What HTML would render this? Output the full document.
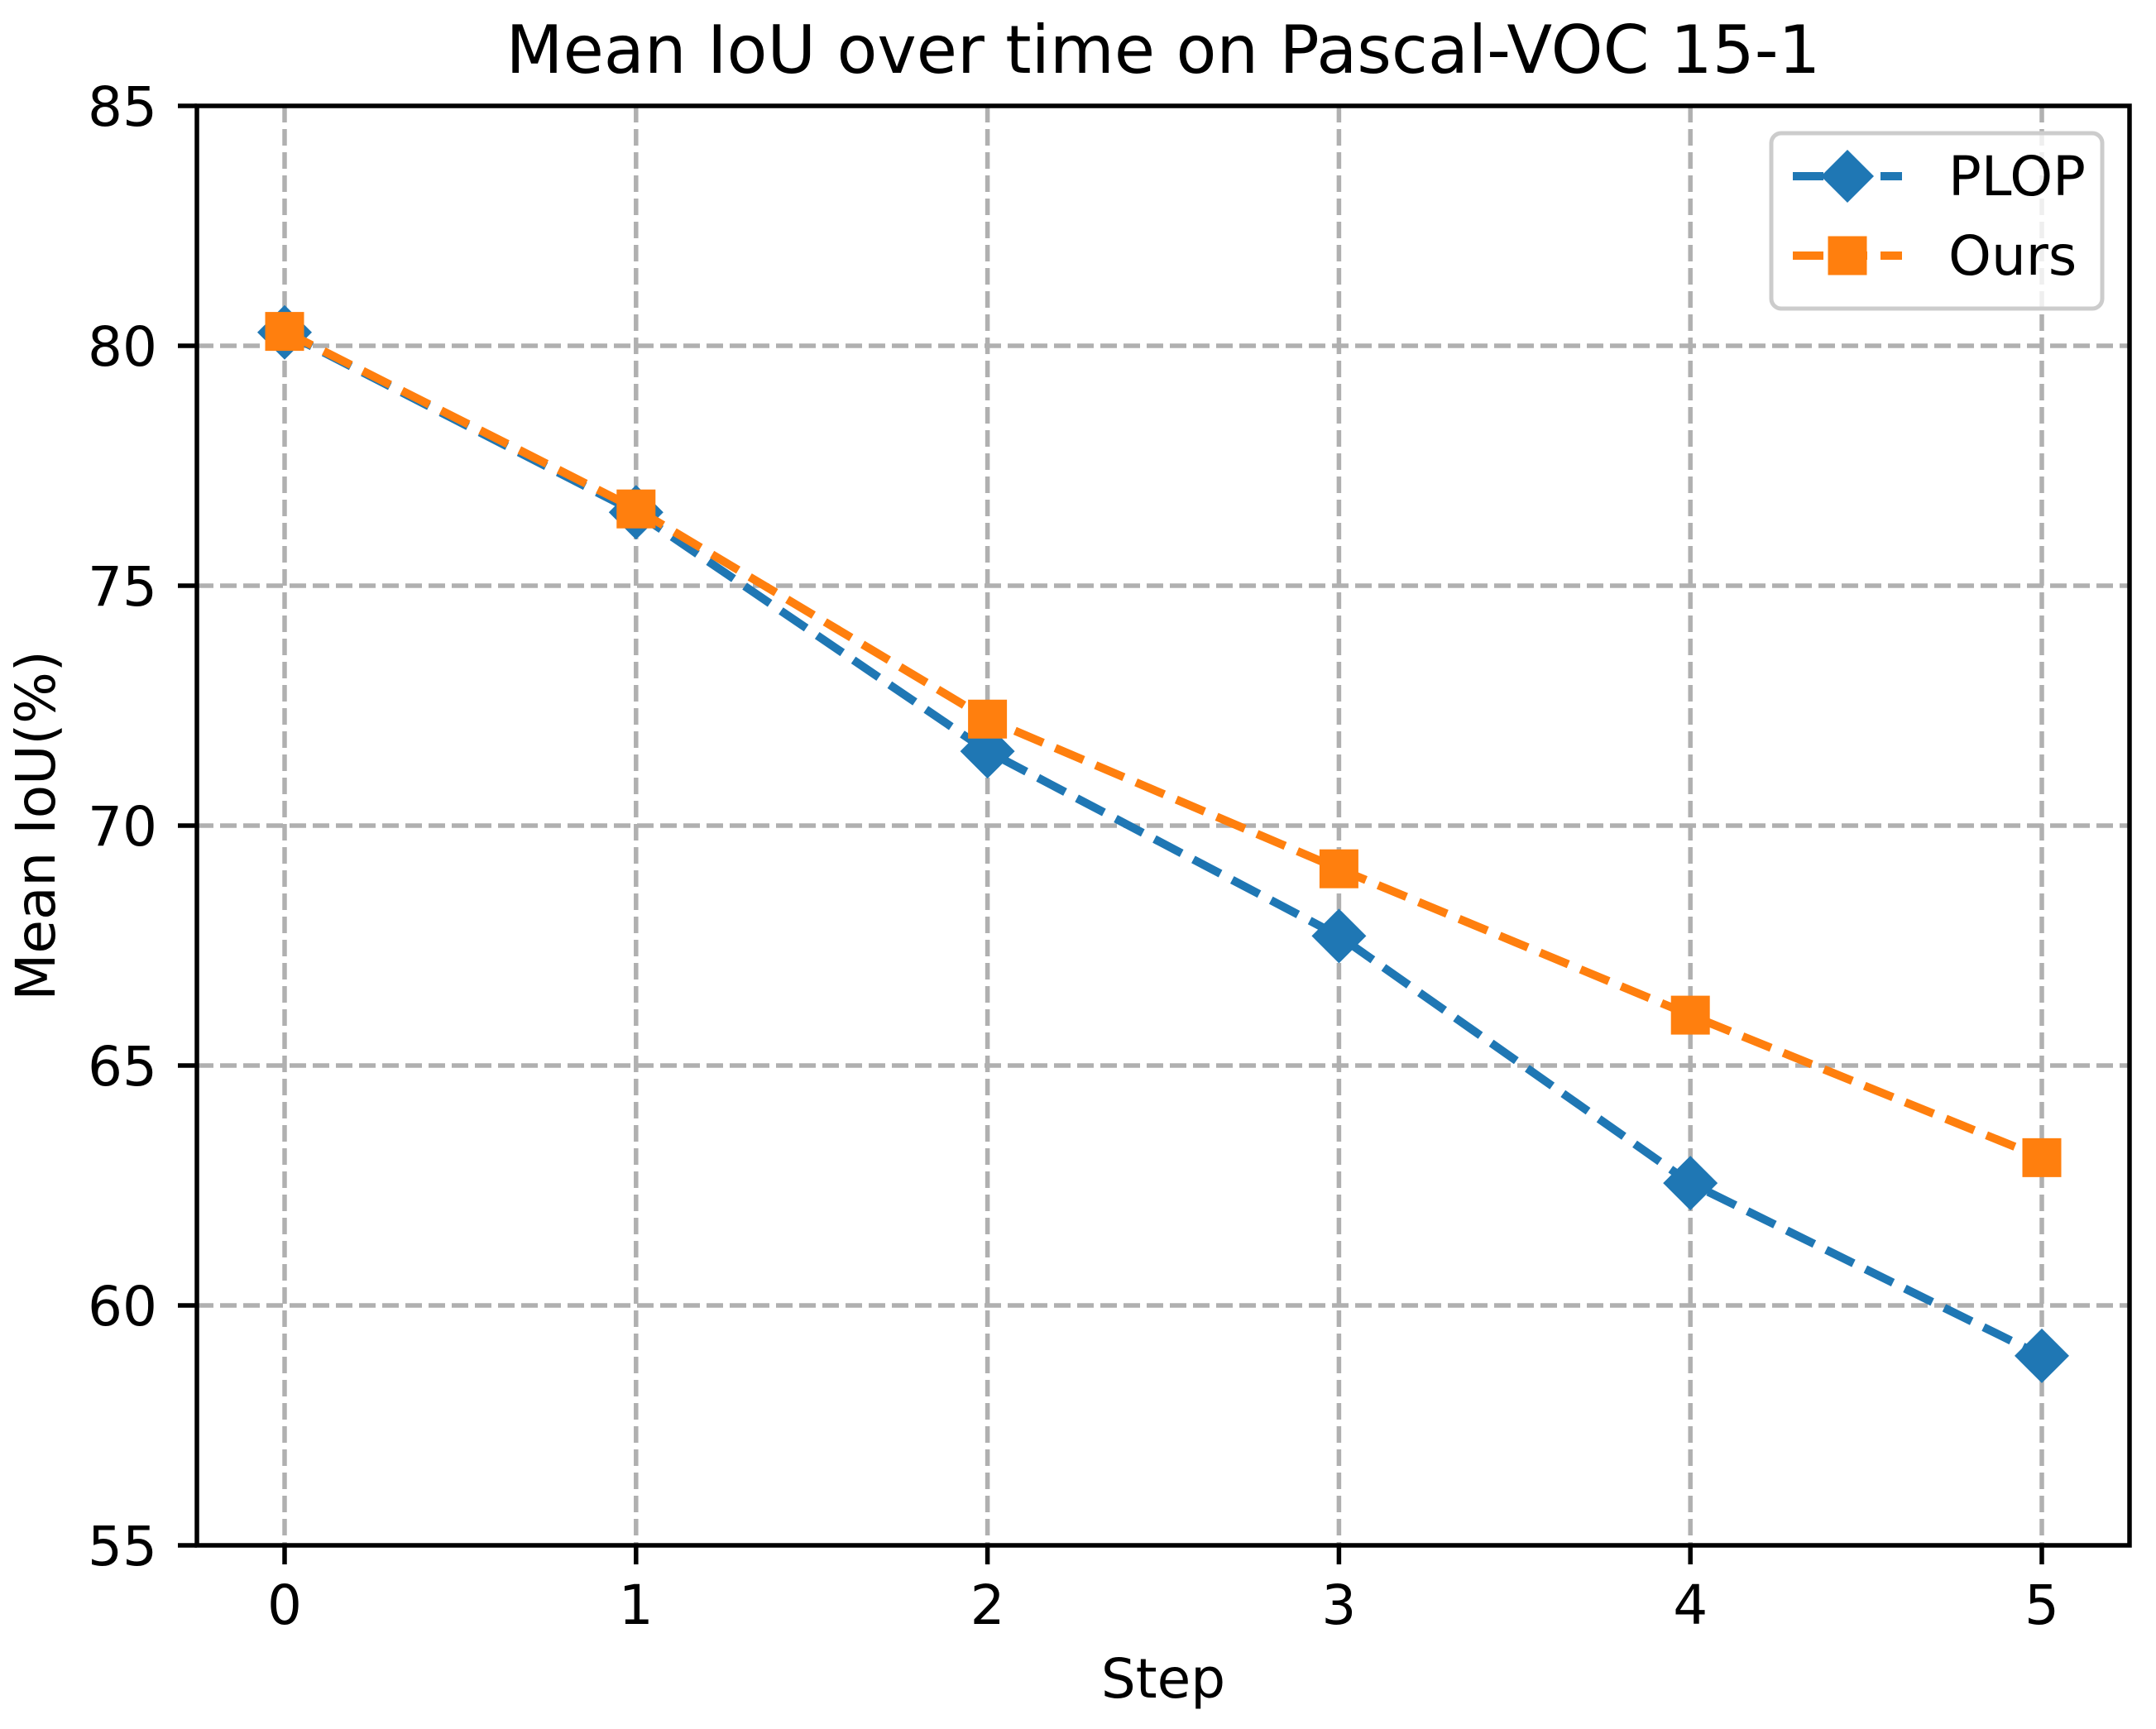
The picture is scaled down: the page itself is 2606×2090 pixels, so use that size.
<!DOCTYPE html>
<html><head><meta charset="utf-8"><style>
html,body{margin:0;padding:0;background:#fff;}
svg{display:block;font-family:"DejaVu Sans","Liberation Sans",sans-serif;}
</style></head><body>
<svg id="chart" width="2606" height="2090" viewBox="0 0 2606 2090" xmlns="http://www.w3.org/2000/svg">
<rect width="2606" height="2090" fill="#fff"/>
<text x="1406" y="88" font-size="80" text-anchor="middle">Mean IoU over time on Pascal-VOC 15-1</text>
<g id="grid"></g>
<g id="series"></g>
<rect x="238" y="128" width="2336" height="1740" fill="none" stroke="#000" stroke-width="5.5"/>
<g id="ticks"></g>
<text x="1406" y="2052" font-size="66" text-anchor="middle">Step</text>
<text transform="translate(66,998) rotate(-90)" font-size="66" text-anchor="middle">Mean IoU(%)</text>
<g>
<rect x="2141" y="161" width="400" height="212" rx="12" fill="#fff" fill-opacity="0.8" stroke="#cccccc" stroke-width="5"/>
<g>
<line x1="2167" y1="213" x2="2299" y2="213" stroke="#1f77b4" stroke-width="10" stroke-dasharray="37,16"/>
<polygon points="2233,181 2265,213 2233,245 2201,213" fill="#1f77b4"/>
<text x="2355" y="236" font-size="66">PLOP</text>
</g>
<g>
<line x1="2167" y1="309" x2="2299" y2="309" stroke="#ff7f0e" stroke-width="10" stroke-dasharray="37,16"/>
<rect x="2209.5" y="285.5" width="47" height="47" fill="#ff7f0e"/>
<text x="2355" y="332" font-size="66">Ours</text>
</g>
</g>
</svg>
<script>
const steps = [0, 1, 2, 3, 4, 5];
const plopValues = [80.28, 76.53, 71.55, 67.7, 62.55, 58.95];
const oursValues = [80.3, 76.6, 72.22, 69.1, 66.05, 63.08];
const yTicks = [55, 60, 65, 70, 75, 80, 85];

const NS = 'http://www.w3.org/2000/svg';
const L = 238, R = 2574, T = 128, B = 1868;
const xScale = v => 344 + v * 424.8;
const yScale = v => T + (85 - v) * (B - T) / 30;
function mk(tag, attrs, parent) {
  const e = document.createElementNS(NS, tag);
  for (const k in attrs) e.setAttribute(k, attrs[k]);
  parent.appendChild(e);
  return e;
}
const grid = document.getElementById('grid');
const ticks = document.getElementById('ticks');
const series = document.getElementById('series');

steps.forEach(s => {
  const x = xScale(s);
  const g = mk('line', {x1: x, y1: T, x2: x, y2: B, stroke: '#b0b0b0', 'stroke-width': 5.5, 'stroke-dasharray': '20,8'}, grid);
  
  
  const t = mk('line', {x1: x, y1: B, x2: x, y2: B + 23, stroke: '#000', 'stroke-width': 5.5}, ticks);
  
  
  const lab = mk('text', {x: x, y: 1963, 'font-size': 66, 'text-anchor': 'middle'}, ticks);
  lab.textContent = String(s);
  
  
});
yTicks.forEach(v => {
  const y = yScale(v);
  if (v !== 55 && v !== 85) {
    const g = mk('line', {x1: L, y1: y, x2: R, y2: y, stroke: '#b0b0b0', 'stroke-width': 5.5, 'stroke-dasharray': '20,8'}, grid);
    
    
  }
  const t = mk('line', {x1: L - 23, y1: y, x2: L, y2: y, stroke: '#000', 'stroke-width': 5.5}, ticks);
  
  
  const lab = mk('text', {x: 190, y: y + 24, 'font-size': 66, 'text-anchor': 'end'}, ticks);
  lab.textContent = String(v);
  
  
});

function drawSeries(vals, color, marker, name) {
  const pts = vals.map((v, i) => xScale(steps[i]) + ',' + yScale(v)).join(' ');
  const pl = mk('polyline', {points: pts, fill: 'none', stroke: color, 'stroke-width': 10, 'stroke-dasharray': '37,16'}, series);
  
  
  vals.forEach((v, i) => {
    const x = xScale(steps[i]), y = yScale(v);
    let m;
    if (marker === 'D') {
      m = mk('polygon', {points: `${x},${y-33} ${x+33},${y} ${x},${y+33} ${x-33},${y}`, fill: color}, series);
    } else {
      m = mk('rect', {x: x - 23.5, y: y - 23.5, width: 47, height: 47, fill: color}, series);
    }
    
    
  });
}
drawSeries(plopValues, '#1f77b4', 'D', 'plop');
drawSeries(oursValues, '#ff7f0e', 's', 'ours');
</script>
</body></html>
